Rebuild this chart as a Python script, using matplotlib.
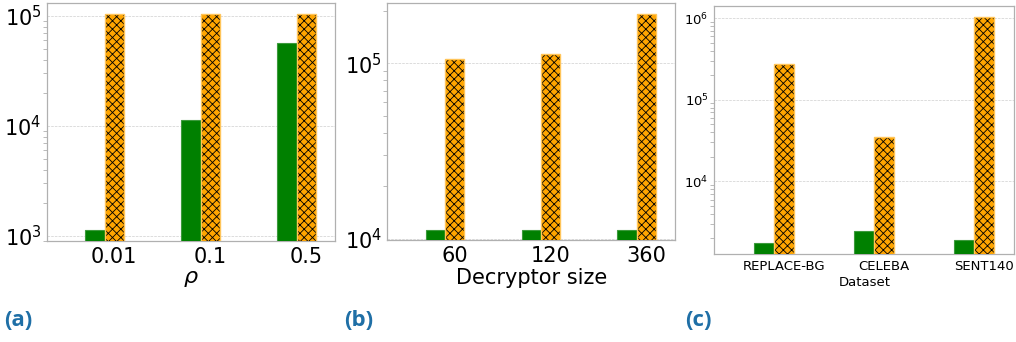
import matplotlib
matplotlib.use("Agg")
import matplotlib.pyplot as plt
import numpy as np

# Panel (a): varying rho
rho_labels = ["0.01", "0.1", "0.5"]
rho_green = [1140, 11350, 56500]
rho_orange = [104000, 104000, 104000]

# Panel (b): varying decryptor size
dec_labels = ["60", "120", "360"]
dec_green = [11300, 11300, 11300]
dec_orange = [105400, 113000, 191000]

# Panel (c): datasets
ds_labels = ["REPLACE-BG", "CELEBA", "SENT140"]
ds_green = [1740, 2440, 1910]
ds_orange = [271000, 34600, 1020000]

GREEN = "#008000"
ORANGE = "#FFA500"
PANEL_BLUE = "#1f6fa6"
SPINE = "#b0b0b0"

plt.rcParams["hatch.linewidth"] = 0.6

fig = plt.figure(figsize=(10.16, 3.42), dpi=100)


def draw(ax, labels, green, orange, ylim, xlabel, tick_fs, label_fs):
    x = np.arange(len(labels))
    w = 0.2
    ax.bar(x - w, green, width=w, color=GREEN, edgecolor="#3c9a3c", linewidth=0.8, zorder=3)
    # orange fill with black cross hatching, then a soft orange outline on top
    ax.bar(x, orange, width=w, color=ORANGE, edgecolor="black", linewidth=0,
           hatch="xxxx", zorder=3)
    ax.bar(x, orange, width=w, fill=False, edgecolor="#ffc55a", linewidth=1.0, zorder=4)
    ax.set_yscale("log")
    ax.set_ylim(*ylim)
    ax.set_xlim(-0.7, 2.3)
    ax.set_xticks(x)
    ax.set_xticklabels(labels, fontsize=tick_fs)
    ax.set_xlabel(xlabel, fontsize=label_fs, labelpad=2)
    ax.tick_params(axis="y", which="major", labelsize=tick_fs, length=0, pad=4)
    ax.tick_params(axis="y", which="minor", length=3, width=0.6, color=SPINE)
    ax.tick_params(axis="x", length=0, pad=4)
    ax.yaxis.grid(True, which="major", linestyle="--", linewidth=0.5, color="#cfcfcf", zorder=0)
    ax.xaxis.grid(False)
    for s in ax.spines.values():
        s.set_color(SPINE)
        s.set_linewidth(0.9)


ax_a = fig.add_axes([0.0463, 0.2953, 0.2835, 0.696])
draw(ax_a, rho_labels, rho_green, rho_orange, (900, 1.31e5), r"$\rho$", 15, 16)

ax_b = fig.add_axes([0.3812, 0.2982, 0.2832, 0.692])
draw(ax_b, dec_labels, dec_green, dec_orange, (9870, 2.2e5), "Decryptor size", 15, 15)

ax_c = fig.add_axes([0.7030, 0.2564, 0.2953, 0.7251])
draw(ax_c, ds_labels, ds_green, ds_orange, (1280, 1.39e6), "Dataset", 9.5, 9.5)

for xpos, tag in [(4, "(a)"), (344, "(b)"), (685, "(c)")]:
    fig.text(xpos / 1016, 1 - 320 / 342, tag, fontsize=16, fontweight="bold",
             color=PANEL_BLUE, family="Open Sans", va="center", ha="left")

fig.savefig("out.png", dpi=100)
